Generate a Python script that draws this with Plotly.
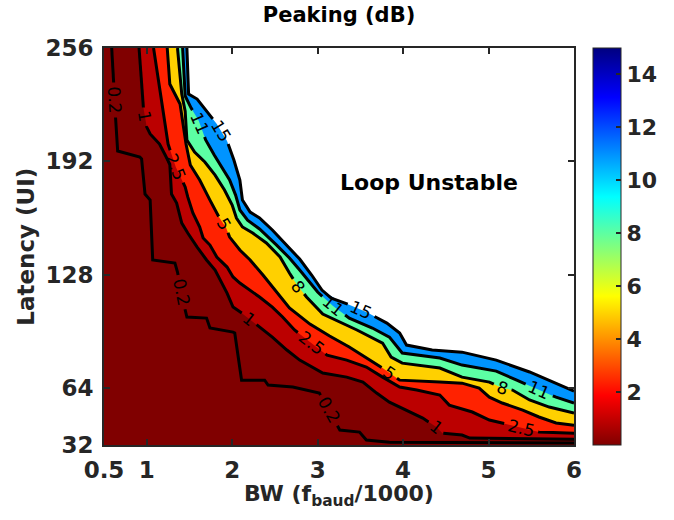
import math
import plotly.graph_objects as go

# ---------------- data ----------------
X_RANGE = [0.5, 6]
Y_RANGE = [32, 256]
X_TICKS = [0.5, 1, 2, 3, 4, 5, 6]
X_TICKTEXT = ["0.5", "1", "2", "3", "4", "5", "6"]
Y_TICKS = [32, 64, 128, 192, 256]
CBAR_TICKS = [2, 4, 6, 8, 10, 12, 14]
CBAR_RANGE = [0, 15]

# contour curves: BW (f_baud/1000) vs latency (UI) where peaking equals the level
BW_02 = [0.59, 0.61, 0.64, 0.66, 0.92, 0.94, 0.98, 1.04, 1.07, 1.33, 1.36, 1.45, 1.47, 1.70, 1.74, 2.01, 2.03,
         2.11, 2.38, 2.42, 2.71, 3.02, 3.26, 3.49, 3.57, 3.84, 6.0]
LAT_02 = [256, 239.1, 212.5, 197.9, 194.5, 193.4, 173.6, 170.2, 136.4, 134.7, 129.6, 108.1, 104.2, 103.6, 98.0,
          95.7, 95.2, 68.6, 68.6, 65.8, 64.7, 61.3, 40.4, 39.3, 34.8, 33.6, 33.1]

BW_1 = [0.91, 0.96, 1.00, 1.04, 1.15, 1.21, 1.27, 1.29, 1.35, 1.41, 1.48, 1.59, 1.70, 1.80, 1.86, 1.94, 2.01, 2.11,
        2.29, 2.47, 2.64, 2.79, 3.06, 3.34, 3.53, 3.69, 3.84, 4.04, 4.23, 4.39, 4.46, 4.69, 4.78, 6.0]
LAT_1 = [256, 222.7, 211.4, 207.5, 201.8, 196.2, 190.5, 173.6, 168.5, 157.2, 151.6, 143.7, 136.4, 130.7, 125.1,
         117.7, 109.8, 106.5, 99.7, 92.9, 85.6, 79.9, 72.6, 70.3, 67.5, 61.3, 56.2, 51.7, 47.2, 42.1, 38.7, 37.6,
         35.9, 35.3]

BW_25 = [1.08, 1.13, 1.19, 1.25, 1.34, 1.45, 1.48, 1.54, 1.62, 1.66, 1.74, 1.82, 1.94, 2.01, 2.09, 2.32, 2.47,
         2.59, 2.73, 2.93, 3.11, 3.34, 3.57, 3.76, 3.96, 4.16, 4.43, 4.54, 4.81, 5.01, 5.36, 5.59, 6.0]
LAT_25 = [256, 239.6, 220.4, 201.8, 188.8, 177.6, 172.0, 162.9, 155.0, 148.8, 144.8, 138.1, 132.4, 126.8, 123.4,
          115.5, 109.8, 104.2, 96.9, 89.5, 82.7, 79.9, 76.0, 70.3, 64.7, 63.0, 60.2, 54.5, 50.6, 46.1, 42.1, 39.3,
          38.7]

BW_5 = [1.24, 1.27, 1.39, 1.42, 1.46, 1.51, 1.62, 1.74, 1.83, 1.93, 1.97, 2.09, 2.21, 2.36, 2.50, 2.67, 2.91, 3.14,
        3.37, 3.61, 3.76, 3.96, 4.43, 4.69, 4.89, 5.01, 5.16, 5.40, 5.59, 5.79, 6.0]
LAT_5 = [256, 235.7, 224.4, 214.8, 201.8, 190.0, 181.5, 170.2, 161.8, 154.4, 149.3, 142.0, 136.4, 127.9, 119.4,
         109.3, 100.2, 93.5, 87.3, 79.9, 75.4, 68.6, 67.5, 66.9, 64.1, 59.0, 55.7, 51.7, 47.8, 44.4, 43.2]

BW_8 = [1.36, 1.41, 1.45, 1.47, 1.56, 1.68, 1.80, 1.91, 2.00, 2.05, 2.12, 2.24, 2.40, 2.56, 2.67, 2.76, 2.87, 3.06,
        3.46, 3.76, 3.86, 3.99, 4.43, 4.69, 5.01, 5.16, 5.28, 5.48, 5.71, 6.0]
LAT_8 = [256, 230.0, 220.4, 204.1, 197.3, 191.7, 184.3, 175.9, 167.4, 160.1, 155.0, 151.6, 146.0, 138.1, 129.0,
         122.3, 115.5, 105.9, 96.9, 89.5, 81.6, 78.2, 75.4, 70.3, 67.5, 64.1, 63.0, 57.4, 53.4, 50.0]

BW_11 = [1.42, 1.45, 1.52, 1.61, 1.69, 1.79, 1.88, 1.97, 2.04, 2.09, 2.18, 2.32, 2.52, 2.67, 2.79, 2.91, 3.00, 3.18,
         3.37, 3.64, 3.84, 3.99, 4.43, 4.69, 5.09, 5.33, 5.59, 5.79, 6.0]
LAT_11 = [256, 228.9, 222.1, 214.8, 204.1, 195.6, 188.3, 181.5, 173.0, 164.6, 158.9, 153.9, 144.8, 137.5, 130.7,
          123.4, 118.3, 110.4, 103.6, 98.0, 92.9, 83.9, 81.1, 77.1, 73.7, 68.6, 63.0, 59.0, 55.7]

BW_15 = [1.47, 1.49, 1.59, 1.70, 1.82, 1.94, 2.02, 2.09, 2.12, 2.21, 2.32, 2.47, 2.64, 2.79, 2.93, 3.05, 3.16, 3.32,
         3.57, 3.81, 3.96, 4.04, 4.34, 4.69, 5.09, 5.48, 6.0]
LAT_15 = [256, 230.0, 227.2, 220.4, 213.1, 203.5, 192.8, 181.5, 170.2, 163.4, 160.1, 153.3, 144.8, 136.9, 127.9,
          119.4, 114.9, 112.1, 107.0, 100.8, 95.2, 88.4, 85.6, 84.4, 79.9, 73.2, 62.4]

# approximate contour label locations (BW, latency)
LBL_BW_02, LBL_LAT_02 = [0.64, 1.41, 3.14], [226.7, 118.3, 51.7]
LBL_BW_1, LBL_LAT_1 = [0.967, 2.206, 4.39], [217.1, 103.6, 42.1]
LBL_BW_25, LBL_LAT_25 = [1.329, 2.93, 5.383], [188.8, 89.5, 42.1]
LBL_BW_5, LBL_LAT_5 = [1.89, 3.853], [156.1, 73.7]
LBL_BW_8, LBL_LAT_8 = [2.755, 5.161], [120.6, 64.1]
LBL_BW_11, LBL_LAT_11 = [1.586, 3.175, 5.593], [213.1, 109.8, 63.0]
LBL_BW_15, LBL_LAT_15 = [1.832, 3.491], [208.0, 105.9]

CONTOURS = [
    ("0.2", BW_02, LAT_02, LBL_BW_02, LBL_LAT_02, None),
    ("1", BW_1, LAT_1, LBL_BW_1, LBL_LAT_1, "#800000"),
    ("2.5", BW_25, LAT_25, LBL_BW_25, LBL_LAT_25, "#bb0000"),
    ("5", BW_5, LAT_5, LBL_BW_5, LBL_LAT_5, "#ff2200"),
    ("8", BW_8, LAT_8, LBL_BW_8, LBL_LAT_8, "#ffd000"),
    ("11", BW_11, LAT_11, LBL_BW_11, LBL_LAT_11, "#5cffa4"),
    ("15", BW_15, LAT_15, LBL_BW_15, LBL_LAT_15, "#0094ff"),
]

JET_R = [[0.0, "#800000"], [0.125, "#ff0000"], [0.375, "#ffff00"], [0.625, "#00ffff"],
         [0.875, "#0000ff"], [1.0, "#000080"]]

# ---------------- layout geometry ----------------
WIDTH, HEIGHT = 674, 520
ML, MR, MT, MB = 104, 99, 48, 75
PW, PH = WIDTH - ML - MR, HEIGHT - MT - MB
AX_COLOR = "#262626"
LBL_FS = 17
TICK_FS = 23
FONT = "DejaVu Sans"


def to_px(bw, lat):
    return ((bw - X_RANGE[0]) / (X_RANGE[1] - X_RANGE[0]) * PW,
            (Y_RANGE[1] - lat) / (Y_RANGE[1] - Y_RANGE[0]) * PH)


def to_data(px, py):
    return (X_RANGE[0] + px / PW * (X_RANGE[1] - X_RANGE[0]),
            Y_RANGE[1] - py / PH * (Y_RANGE[1] - Y_RANGE[0]))


def cumlen(pts):
    c = [0.0]
    for i in range(1, len(pts)):
        c.append(c[-1] + math.hypot(pts[i][0] - pts[i - 1][0], pts[i][1] - pts[i - 1][1]))
    return c


def point_at(pts, c, s):
    s = max(0.0, min(c[-1], s))
    for i in range(len(pts) - 1):
        if c[i + 1] >= s:
            seg = c[i + 1] - c[i]
            t = 0.0 if seg == 0 else (s - c[i]) / seg
            return (pts[i][0] + t * (pts[i + 1][0] - pts[i][0]),
                    pts[i][1] + t * (pts[i + 1][1] - pts[i][1]))
    return pts[-1]


def nearest_s(pts, c, p):
    best = None
    for i in range(len(pts) - 1):
        ax, ay = pts[i]
        bx, by = pts[i + 1]
        dx, dy = bx - ax, by - ay
        l2 = dx * dx + dy * dy
        t = 0.0 if l2 == 0 else max(0.0, min(1.0, ((p[0] - ax) * dx + (p[1] - ay) * dy) / l2))
        d = math.hypot(p[0] - (ax + t * dx), p[1] - (ay + t * dy))
        if best is None or d < best[0]:
            best = (d, c[i] + t * math.sqrt(l2))
    return best[1]


def text_width(txt):
    return sum(0.318 if ch == "." else 0.636 for ch in txt) * LBL_FS


fig = go.Figure()

# filled bands (each polygon: region on the low-latency / low-BW side of a contour)
for name, bws, lats, _, _, color in reversed(CONTOURS):
    if color is None:
        continue
    fig.add_trace(go.Scatter(
        x=list(bws) + [X_RANGE[1], X_RANGE[0], X_RANGE[0]],
        y=list(lats) + [Y_RANGE[0], Y_RANGE[0], Y_RANGE[1]],
        mode="lines", fill="toself", fillcolor=color, line=dict(width=0),
        hoverinfo="skip", showlegend=False))

annotations = []
for name, bws, lats, lbws, llats, _ in CONTOURS:
    pts = [to_px(b, l) for b, l in zip(bws, lats)]
    c = cumlen(pts)
    gaps = []
    for lb, ll in zip(lbws, llats):
        s = nearest_s(pts, c, to_px(lb, ll))
        p = point_at(pts, c, s)
        p1 = point_at(pts, c, s - 9)
        p2 = point_at(pts, c, s + 9)
        ang = math.degrees(math.atan2(p2[1] - p1[1], p2[0] - p1[0]))
        if ang > 90:
            ang -= 180
        if ang < -90:
            ang += 180
        half = text_width(name) / 2 + 4
        gaps.append((s - half, s + half))
        dx, dy = to_data(*p)
        annotations.append(dict(x=dx, y=dy, xref="x", yref="y", text=name, showarrow=False,
                                textangle=ang, xanchor="center", yanchor="middle",
                                font=dict(family=FONT, size=LBL_FS, color="black")))
    gaps.sort()
    keep = []
    start = 0.0
    for a, b in gaps:
        if a > start:
            keep.append((start, a))
        start = max(start, b)
    if start < c[-1]:
        keep.append((start, c[-1]))
    xs, ys = [], []
    for u, v in keep:
        seg = [point_at(pts, c, u)] + [pts[i] for i in range(len(pts)) if u < c[i] < v] + [point_at(pts, c, v)]
        for q in seg:
            d = to_data(*q)
            xs.append(d[0])
            ys.append(d[1])
        xs.append(None)
        ys.append(None)
    fig.add_trace(go.Scatter(x=xs, y=ys, mode="lines", line=dict(color="black", width=3),
                             hoverinfo="skip", showlegend=False))

# colorbar carrier
fig.add_trace(go.Scatter(
    x=[None], y=[None], mode="markers", showlegend=False, hoverinfo="skip",
    marker=dict(color=[0], cmin=CBAR_RANGE[0], cmax=CBAR_RANGE[1], colorscale=JET_R, showscale=True,
                colorbar=dict(x=(593 - ML) / PW, xanchor="left", xpad=0, y=0.5, yanchor="middle",
                              len=1, lenmode="fraction", ypad=0, thickness=28, thicknessmode="pixels",
                              outlinewidth=1, outlinecolor=AX_COLOR, tickvals=CBAR_TICKS,
                              ticks="inside", ticklen=5, tickwidth=1.5, tickcolor=AX_COLOR,
                              tickfont=dict(family=FONT, size=22, color=AX_COLOR, weight="bold")))))

annotations += [
    dict(x=4.3, y=180, xref="x", yref="y", text="Loop Unstable", showarrow=False,
         font=dict(family=FONT, size=22, color="black", weight="bold")),
    dict(x=0.5, y=(MT + PH - 495) / PH, xref="paper", yref="paper",
         text="BW (f<sub>baud</sub>/1000)", showarrow=False, yanchor="middle",
         font=dict(family=FONT, size=22, color=AX_COLOR, weight="bold")),
    dict(x=(25 - ML) / PW, y=0.5, xref="paper", yref="paper", text="Latency (UI)", showarrow=False,
         textangle=-90, xanchor="center", yanchor="middle",
         font=dict(family=FONT, size=23, color=AX_COLOR, weight="bold")),
]

axis_common = dict(ticks="inside", ticklen=6, tickwidth=1.5, tickcolor=AX_COLOR, showline=True,
                   linewidth=2, linecolor=AX_COLOR, mirror="ticks", showgrid=False, zeroline=False,
                   tickfont=dict(family=FONT, size=TICK_FS, color=AX_COLOR, weight="bold"))

fig.update_layout(
    width=WIDTH, height=HEIGHT,
    margin=dict(l=ML, r=MR, t=MT, b=MB),
    paper_bgcolor="white", plot_bgcolor="white",
    title=dict(text="Peaking (dB)", x=0.5, xref="paper", xanchor="center", y=1 - 15 / HEIGHT,
               yanchor="middle", font=dict(family=FONT, size=21, color="black", weight="bold")),
    xaxis=dict(range=X_RANGE, tickvals=X_TICKS, ticktext=X_TICKTEXT, ticklabelstandoff=3, **axis_common),
    yaxis=dict(range=Y_RANGE, tickvals=Y_TICKS, ticklabelstandoff=4, **axis_common),
    annotations=annotations,
    hovermode=False,
)

fig.write_html("out.html")
